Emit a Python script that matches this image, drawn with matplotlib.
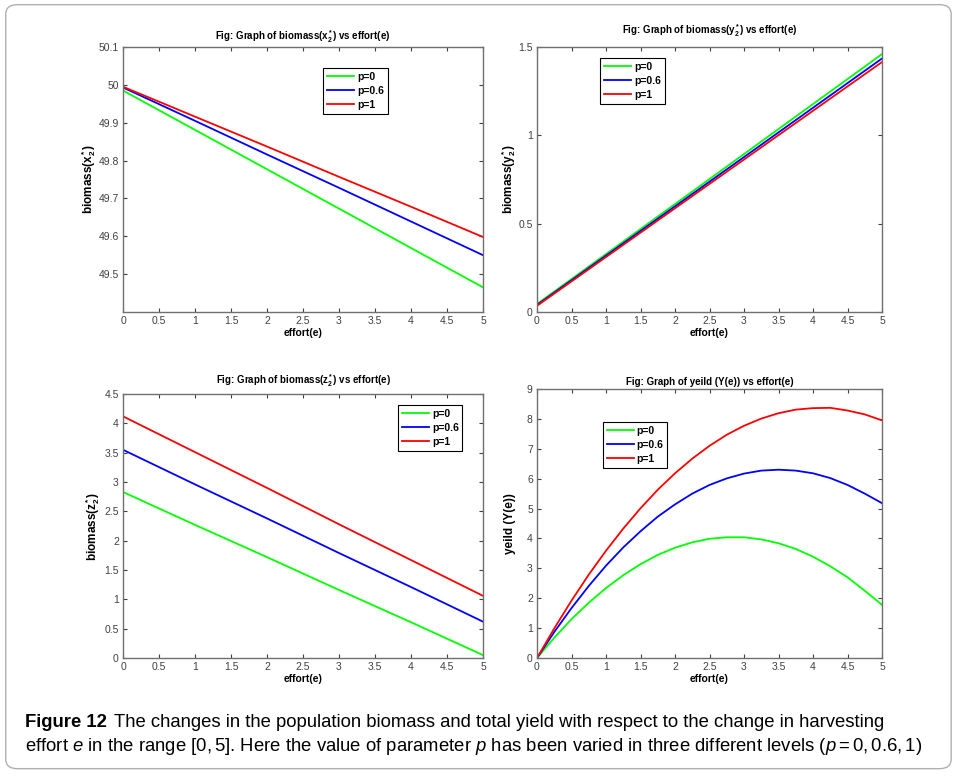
import matplotlib
matplotlib.use('Agg')
import matplotlib.pyplot as plt
from matplotlib.patches import FancyBboxPatch

plt.rcParams['font.family'] = ['Liberation Sans', 'DejaVu Sans']
plt.rcParams['mathtext.fontset'] = 'custom'
plt.rcParams['mathtext.rm'] = 'Liberation Sans'
plt.rcParams['mathtext.it'] = 'Liberation Sans:italic'
plt.rcParams['mathtext.bf'] = 'Liberation Sans:bold'

# effort values
e_lin = [0, 1, 2, 3, 4, 5]
e_yld = [0, 0.25, 0.5, 0.75, 1, 1.25, 1.5, 1.75, 2, 2.25, 2.5,
         2.75, 3, 3.25, 3.5, 3.75, 4, 4.25, 4.5, 4.75, 5]
labels = ['p=0', 'p=0.6', 'p=1']
colors = ['#00ff00', '#0000ff', '#ff0000']

# biomass x2*
x2_p0 = [49.985, 49.881, 49.777, 49.673, 49.569, 49.465]
x2_p06 = [49.993, 49.905, 49.816, 49.728, 49.639, 49.550]
x2_p1 = [49.995, 49.916, 49.837, 49.757, 49.678, 49.598]

# biomass y2*
y2_p0 = [0.045, 0.328, 0.611, 0.894, 1.177, 1.460]
y2_p06 = [0.040, 0.319, 0.598, 0.877, 1.156, 1.435]
y2_p1 = [0.035, 0.311, 0.587, 0.863, 1.139, 1.415]

# biomass z2*
z2_p0 = [2.83, 2.27, 1.72, 1.16, 0.61, 0.05]
z2_p06 = [3.55, 2.96, 2.38, 1.79, 1.21, 0.62]
z2_p1 = [4.12, 3.51, 2.90, 2.28, 1.67, 1.06]

# yield Y(e)
Y_p0 = [0, 0.68, 1.30, 1.85, 2.34, 2.77, 3.14, 3.45, 3.69, 3.87, 3.99,
        4.04, 4.04, 3.97, 3.84, 3.65, 3.39, 3.07, 2.70, 2.25, 1.78]
Y_p06 = [0, 0.87, 1.67, 2.41, 3.09, 3.70, 4.24, 4.73, 5.14, 5.50, 5.79,
         6.01, 6.17, 6.27, 6.30, 6.27, 6.18, 6.02, 5.79, 5.50, 5.18]
Y_p1 = [0, 0.99, 1.92, 2.79, 3.59, 4.33, 5.01, 5.63, 6.18, 6.67, 7.10,
        7.47, 7.77, 8.01, 8.19, 8.31, 8.36, 8.37, 8.28, 8.15, 7.95]

fig = plt.figure(figsize=(9.55, 7.78), dpi=100)

frame = FancyBboxPatch((0.006, 0.012), 0.99, 0.982, boxstyle='round,pad=0,rounding_size=0.012',
                       transform=fig.transFigure, fill=False, edgecolor='#b0b0b0', linewidth=1.0)
fig.patches.append(frame)

panels = [
    dict(pos=[0.1288, 0.599, 0.377, 0.3406], x=e_lin, ys=[x2_p0, x2_p06, x2_p1],
         ylim=(49.4, 50.1), yticks=[49.5, 49.6, 49.7, 49.8, 49.9, 50, 50.1],
         ytl=['49.5', '49.6', '49.7', '49.8', '49.9', '50', '50.1'],
         title=r'Fig: Graph of biomass($\mathbf{x_2^*}$) vs effort(e)', ylabel=r'biomass($\mathbf{x_2^*}$)',
         leg=(0.556, 0.921), lp=0, tpad=5),
    dict(pos=[0.5623, 0.599, 0.3613, 0.3406], x=e_lin, ys=[y2_p0, y2_p06, y2_p1],
         ylim=(0, 1.5), yticks=[0, 0.5, 1, 1.5], ytl=['0', '0.5', '1', '1.5'],
         title=r'Fig: Graph of biomass($\mathbf{y_2^*}$) vs effort(e)', ylabel=r'biomass($\mathbf{y_2^*}$)',
         leg=(0.183, 0.958), lp=0, tpad=9),
    dict(pos=[0.1288, 0.1542, 0.377, 0.3393], x=e_lin, ys=[z2_p0, z2_p06, z2_p1],
         ylim=(0, 4.5), yticks=[0, 0.5, 1, 1.5, 2, 2.5, 3, 3.5, 4, 4.5],
         ytl=['0', '0.5', '1', '1.5', '2', '2.5', '3', '3.5', '4', '4.5'],
         title=r'Fig: Graph of biomass($\mathbf{z_2^*}$) vs effort(e)', ylabel=r'biomass($\mathbf{z_2^*}$)',
         leg=(0.764, 0.958), lp=2, tpad=7),
    dict(pos=[0.5623, 0.1542, 0.3613, 0.3458], x=e_yld, ys=[Y_p0, Y_p06, Y_p1],
         ylim=(0, 9), yticks=list(range(10)), ytl=[str(i) for i in range(10)],
         title='Fig: Graph of yeild (Y(e)) vs effort(e)', ylabel='yeild (Y(e))',
         leg=(0.191, 0.877), lp=8, tpad=3),
]

xt = [0, 0.5, 1, 1.5, 2, 2.5, 3, 3.5, 4, 4.5, 5]
xtl = ['0', '0.5', '1', '1.5', '2', '2.5', '3', '3.5', '4', '4.5', '5']

for p in panels:
    ax = fig.add_axes(p['pos'])
    for y, c, lab in zip(p['ys'], colors, labels):
        ax.plot(p['x'], y, color=c, lw=1.3, label=lab)
    ax.set_xlim(0, 5)
    ax.set_ylim(*p['ylim'])
    ax.set_xticks(xt)
    ax.set_xticklabels(xtl)
    ax.set_yticks(p['yticks'])
    ax.set_yticklabels(p['ytl'])
    ax.tick_params(direction='in', top=True, right=True, length=3, width=0.8,
                   labelsize=7.5, labelcolor='#404040', color='#404040', pad=3)
    for s in ax.spines.values():
        s.set_color('#707070')
        s.set_linewidth(1.0)
    ax.set_title(p['title'], fontsize=7, fontweight='bold', pad=p['tpad'])
    ax.set_xlabel('effort(e)', fontsize=7.5, fontweight='bold', labelpad=1)
    ax.set_ylabel(p['ylabel'], fontsize=8.5, fontweight='bold', labelpad=p['lp'])
    leg = ax.legend(loc='upper left', bbox_to_anchor=p['leg'], prop={'weight': 'bold', 'size': 7.5},
                    fancybox=False, framealpha=1, edgecolor='black', borderpad=0.35,
                    handlelength=2.6, handletextpad=0.3, labelspacing=0.4, borderaxespad=0)
    leg.get_frame().set_linewidth(0.8)

# caption
cap_font = ['Liberation Sans', 'DejaVu Sans']
t1 = fig.text(0.026, 0.065, 'Figure 12', fontsize=13.3, fontweight='bold', family=cap_font, va='baseline')
fig.canvas.draw()
r = fig.canvas.get_renderer()
bb = t1.get_window_extent(r)
x1 = (bb.x1 + 7) / fig.bbox.width
fig.text(x1, 0.065, 'The changes in the population biomass and total yield with respect to the change in harvesting',
         fontsize=13.3, family=cap_font, va='baseline')
fig.text(0.026, 0.035, r'effort $e$ in the range $[0, 5]$. Here the value of parameter $p$ has been varied in three different levels ($p = 0, 0.6, 1$)',
         fontsize=13.3, family=cap_font, va='baseline')

fig.savefig('out.png', dpi=100)
